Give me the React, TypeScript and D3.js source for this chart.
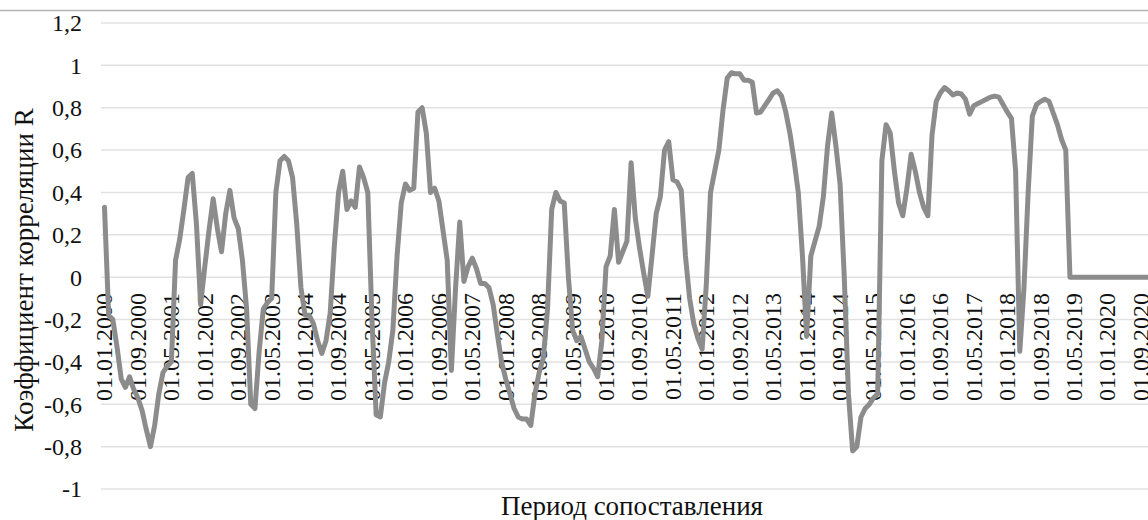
import React from "react"
import * as d3 from "d3"

// monthly correlation coefficient R, 01.2000 .. 12.2020
const values = [
  0.33, -0.18, -0.2, -0.33, -0.48, -0.52, -0.47, -0.53, -0.57, -0.63, -0.72, -0.8,
  -0.7, -0.55, -0.45, -0.42, -0.4, 0.08, 0.18, 0.32, 0.47, 0.49, 0.25, -0.13,
  0.05, 0.22, 0.37, 0.23, 0.12, 0.3, 0.41, 0.28, 0.23, 0.08, -0.15, -0.6,
  -0.62, -0.35, -0.15, -0.12, -0.1, 0.4, 0.55, 0.57, 0.55, 0.47, 0.25, -0.05,
  -0.18, -0.18, -0.22, -0.3, -0.36, -0.3, -0.17, 0.15, 0.4, 0.5, 0.32, 0.36,
  0.33, 0.52, 0.47, 0.4, -0.2, -0.65, -0.66, -0.5, -0.4, -0.25, 0.1, 0.35,
  0.44, 0.41, 0.42, 0.78, 0.8, 0.68, 0.4, 0.42, 0.36, 0.22, 0.08, -0.44,
  -0.05, 0.26, -0.02, 0.05, 0.09, 0.04, -0.03, -0.03, -0.05, -0.13, -0.27, -0.4,
  -0.48, -0.55, -0.62, -0.66, -0.67, -0.67, -0.7, -0.55, -0.45, -0.38, -0.15, 0.32,
  0.4, 0.36, 0.35, 0.0, -0.25, -0.3, -0.28, -0.34, -0.4, -0.43, -0.47, -0.3,
  0.05, 0.1, 0.32, 0.07, 0.12, 0.17, 0.54, 0.28, 0.14, 0.02, -0.09, 0.1,
  0.3, 0.38, 0.6, 0.64, 0.46, 0.45, 0.41, 0.1, -0.1, -0.22, -0.29, -0.34,
  -0.03, 0.4, 0.5, 0.6, 0.79, 0.94, 0.965, 0.96, 0.96, 0.93, 0.93, 0.92,
  0.775, 0.78, 0.81, 0.84, 0.87, 0.88, 0.855, 0.78, 0.68, 0.55, 0.4, 0.1,
  -0.28, 0.1, 0.17, 0.24, 0.38, 0.62, 0.775, 0.62, 0.44, 0.0, -0.55, -0.82,
  -0.8, -0.66, -0.62, -0.6, -0.57, -0.55, 0.55, 0.72, 0.68, 0.5, 0.35, 0.29,
  0.42, 0.58, 0.5, 0.4, 0.33, 0.29, 0.67, 0.83, 0.87, 0.895, 0.88, 0.86,
  0.87, 0.865, 0.84, 0.77, 0.81, 0.82, 0.83, 0.84, 0.85, 0.855, 0.85, 0.815,
  0.78, 0.75, 0.5, -0.35, -0.05, 0.4, 0.76, 0.815, 0.83, 0.84, 0.83, 0.775,
  0.72, 0.65, 0.6, 0, 0, 0, 0, 0, 0, 0, 0, 0,
  0, 0, 0, 0, 0, 0, 0, 0, 0, 0, 0, 0,
]

// one label every 8 months
const tickLabels = [
  "01.01.2000", "01.09.2000", "01.05.2001", "01.01.2002", "01.09.2002", "01.05.2003",
  "01.01.2004", "01.09.2004", "01.05.2005", "01.01.2006", "01.09.2006", "01.05.2007",
  "01.01.2008", "01.09.2008", "01.05.2009", "01.01.2010", "01.09.2010", "01.05.2011",
  "01.01.2012", "01.09.2012", "01.05.2013", "01.01.2014", "01.09.2014", "01.05.2015",
  "01.01.2016", "01.09.2016", "01.05.2017", "01.01.2018", "01.09.2018", "01.05.2019",
  "01.01.2020", "01.09.2020",
]
const tickStep = 8

const yTicks = [-1, -0.8, -0.6, -0.4, -0.2, 0, 0.2, 0.4, 0.6, 0.8, 1, 1.2]

const W = 1148
const H = 520
const txt = {
  fontFamily: "'Liberation Serif', 'Times New Roman', Tinos, 'DejaVu Serif', 'Noto Serif', Times, serif",
  fill: "#111",
}

const App = () => {
  const x = d3.scaleLinear().domain([0, 248]).range([104.5, 1141])
  const y = d3.scaleLinear().domain([-1, 1.2]).range([489, 23])

  const line = d3.line<number>()
    .x((d, i) => x(i))
    .y(d => y(d))

  const fmt = (v: number) => String(Math.round(v * 10) / 10).replace(".", ",")

  return (
    <svg width={W} height={H} style={{ position: "absolute", left: 0, top: 0, background: "#fff" }}>
      <line x1={0} x2={W} y1={10.5} y2={10.5} stroke="#b4b4b4" strokeWidth={1.5} />
      {yTicks.map(t => (
        <g key={t}>
          <line x1={101} x2={W} y1={y(t)} y2={y(t)} stroke="#e2e2e2" strokeWidth={1.5} />
          <text x={82} y={y(t)} dy="0.35em" textAnchor="end" fontSize={24} style={txt}>
            {fmt(t)}
          </text>
        </g>
      ))}
      {tickLabels.map((lab, k) => (
        <text key={lab}
          transform={`translate(${x(k * tickStep)},293) rotate(-90)`}
          dy="0.33em" textAnchor="end" fontSize={24} style={txt}>
          {lab}
        </text>
      ))}
      <path d={line(values) || ""} fill="none" stroke="#8c8c8c" strokeWidth={5}
        strokeLinejoin="round" strokeLinecap="round" />
      <text transform="translate(33,270) rotate(-90)" textAnchor="middle" fontSize={27} style={txt}>
        Коэффициент  корреляции R
      </text>
      <text x={632} y={515} textAnchor="middle" fontSize={27} style={txt}>
        Период сопоставления
      </text>
    </svg>
  )
}

export default App
